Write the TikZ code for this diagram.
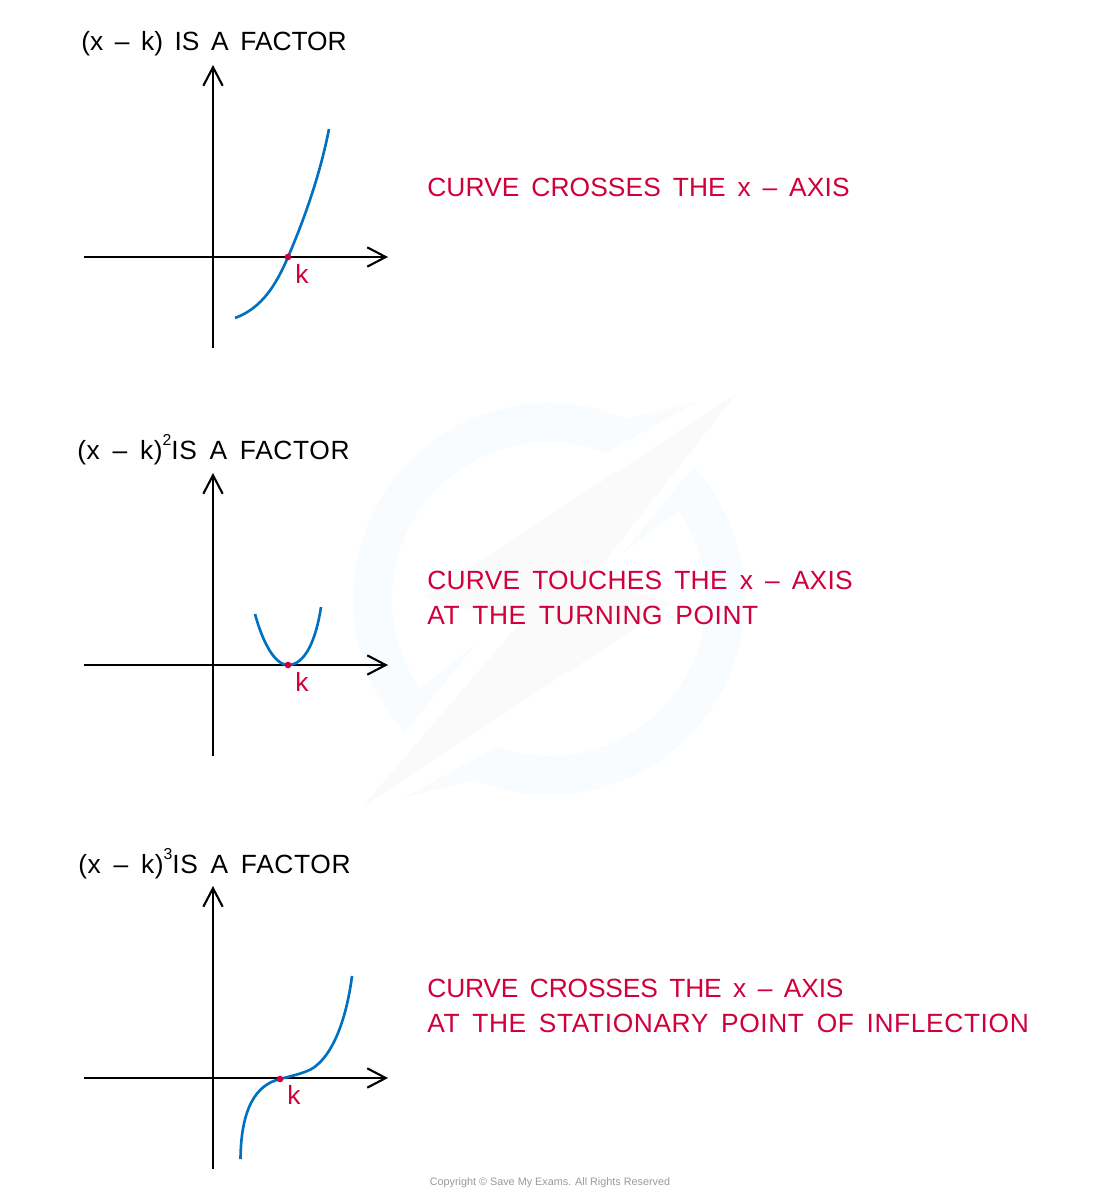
\documentclass[tikz,border=0pt]{standalone}
\usepackage{xcolor}
\usepackage{fontspec}
\setmainfont{Liberation Sans}[WordSpace=1.6]
\newfontfamily\copyfont{Liberation Sans}
\usetikzlibrary{arrows.meta}
\definecolor{curvecolor}{RGB}{0,112,192}
\definecolor{notecolor}{RGB}{208,0,60}
\definecolor{ringcolor}{RGB}{248,252,254}
\definecolor{boltcolor}{RGB}{250,250,250}
\newcommand{\track}[2]{{\addfontfeature{LetterSpace=#1}#2}}
\newcommand{\power}[1]{\raisebox{7.5pt}{\fontsize{9}{9}\selectfont #1}}

\begin{document}
\begin{tikzpicture}[
    x=0.02cm, y=-0.02cm,
    axisline/.style={line width=1.2pt, black, -{Straight Barb[length=10.5pt, width=11pt, line width=1.2pt]}},
    curveline/.style={line width=1.5pt, curvecolor},
    rootdot/.style={circle, fill=notecolor, inner sep=0pt, minimum size=3.8pt},
    heading/.style={anchor=base west, inner sep=0pt, font=\fontsize{15}{18}\selectfont, text=black},
    note/.style={anchor=base west, inner sep=0pt, font=\fontsize{15}{18}\selectfont, text=notecolor},
    rootlabel/.style={anchor=base west, inner sep=0pt, font=\fontsize{15}{18}\selectfont, text=notecolor},
    copyline/.style={inner sep=0pt, font=\fontsize{6.15}{8}\copyfont, text=black!40}
]
    \useasboundingbox (0,0) rectangle (1100,1200);

    % Watermark
    \fill[ringcolor] plot[domain=137.3:293.3, samples=60] ({549+196*cos(\x)},{599+196*sin(\x)})
        -- (697,402) -- (607,452)
        -- plot[domain=291.5:145.3, samples=60] ({549+157*cos(\x)},{599+157*sin(\x)})
        -- (477,643) -- cycle;
    \fill[ringcolor] plot[domain=-42.5:112.6, samples=60] ({549+196*cos(\x)},{599+196*sin(\x)})
        -- (403,798) -- (497,747)
        -- plot[domain=109.4:-34.2, samples=60] ({549+157*cos(\x)},{599+157*sin(\x)})
        -- (623,553) -- cycle;
    \fill[boltcolor] (737,393) -- (425,597) -- (520,623) -- (362,807) -- (673,603) -- (590,580) -- cycle;

    % Headings
    \node[heading] (head1) at (81,51) {\track{-0.2}{(x -- k) IS A FACTOR}};
    \node[heading] (head2) at (77,459) {\track{2.4}{(x -- k)\power{2}IS A FACTOR}};
    \node[heading] (head3) at (78,873) {\track{2.4}{(x -- k)\power{3}IS A FACTOR}};

    % Notes
    \node[note] (note1) at (427,196) {\track{0.4}{CURVE CROSSES THE x -- AXIS}};
    \node[note] (note2) at (427,589) {\track{1}{CURVE TOUCHES THE x -- AXIS}};
    \node[note] (note3) at (427,624) {\track{2.3}{AT THE TURNING POINT}};
    \node[note] (note4) at (427,997) {\track{-0.6}{CURVE CROSSES THE x -- AXIS}};
    \node[note] (note5) at (427,1032) {\track{2.3}{AT THE STATIONARY POINT OF INFLECTION}};

    % Linear factor
    \coordinate (left1) at (84,257);
    \coordinate (right1) at (388,257);
    \coordinate (low1) at (213,348);
    \coordinate (high1) at (213,65);
    \coordinate (start1) at (235,318);
    \coordinate (end1) at (329,129);
    \draw[axisline] (left1) -- (right1);
    \draw[axisline] (low1) -- (high1);
    \coordinate (root1) at (288,257);
    \draw[curveline] (start1) .. controls (262,308) and (276,285) .. (root1) .. controls (304,220) and (320,175) .. (end1);
    \node[rootdot] (dot1) at (root1) {};
    \node[rootlabel] (k1) at (295,283) {k};

    % Squared factor
    \coordinate (left2) at (84,665);
    \coordinate (right2) at (388,665);
    \coordinate (low2) at (213,756);
    \coordinate (high2) at (213,473);
    \coordinate (start2) at (255,614);
    \coordinate (end2) at (321,607);
    \draw[axisline] (left2) -- (right2);
    \draw[axisline] (low2) -- (high2);
    \coordinate (root2) at (288,665);
    \draw[curveline] (start2) .. controls (262,640) and (274,665) .. (root2) .. controls (305,665) and (316,640) .. (end2);
    \node[rootdot] (dot2) at (root2) {};
    \node[rootlabel] (k2) at (295,691) {k};

    % Cubed factor
    \coordinate (left3) at (84,1078);
    \coordinate (right3) at (388,1078);
    \coordinate (low3) at (213,1169);
    \coordinate (high3) at (213,886);
    \coordinate (start3) at (240.5,1159);
    \coordinate (end3) at (352,976);
    \draw[axisline] (left3) -- (right3);
    \draw[axisline] (low3) -- (high3);
    \coordinate (root3) at (280,1079);
    \draw[curveline] (start3) .. controls (241,1110) and (255,1085) .. (root3) .. controls (295,1075) and (310,1072) .. (317,1065) .. controls (335,1050) and (347,1015) .. (end3);
    \node[rootdot] (dot3) at (root3) {};
    \node[rootlabel] (k3) at (287,1104) {k};

    \node[copyline] (copy) at (550,1183) {Copyright \textcopyright{} Save My Exams. All Rights Reserved};
\end{tikzpicture}
\end{document}
